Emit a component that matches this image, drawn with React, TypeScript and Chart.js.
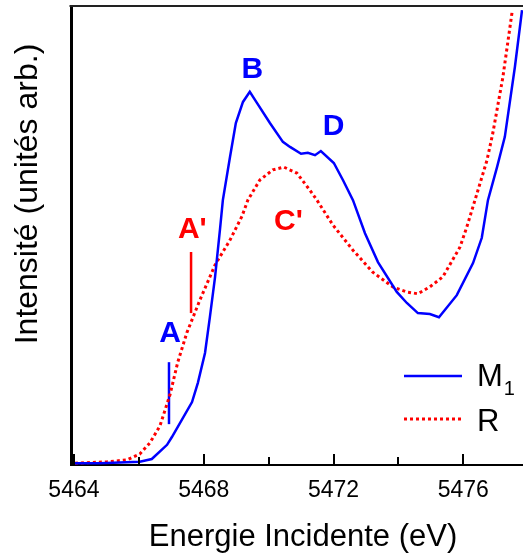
import React, { useEffect, useRef } from "react";
import { Chart, registerables } from "chart.js";

Chart.register(...registerables);

// ---- Data ----
const energyM1 = [
  5464.03, 5464.8, 5466.03, 5466.4, 5466.87, 5467.02, 5467.64, 5467.82, 5468.04, 5468.19,
  5468.35, 5468.5, 5468.59, 5468.81, 5468.99, 5469.21, 5469.42, 5469.64, 5470.04, 5470.44,
  5470.66, 5471.0, 5471.21, 5471.43, 5471.61, 5472.01, 5472.29, 5472.6, 5472.97, 5473.37,
  5473.95, 5474.26, 5474.6, 5474.97, 5475.25, 5475.8, 5476.3, 5476.57, 5476.76, 5477.04,
  5477.28, 5477.59, 5477.81,
];
const intensityM1 = [
  0.004, 0.004, 0.007, 0.013, 0.044, 0.061, 0.137, 0.179, 0.244, 0.322,
  0.41, 0.512, 0.577, 0.671, 0.745, 0.791, 0.813, 0.789, 0.745, 0.704,
  0.693, 0.678, 0.68, 0.675, 0.684, 0.658, 0.621, 0.577, 0.505, 0.442,
  0.377, 0.353, 0.331, 0.329, 0.322, 0.37, 0.44, 0.495, 0.577, 0.649,
  0.715, 0.867, 0.991,
];
const energyR = [
  5464.03, 5465.02, 5465.63, 5466.03, 5466.34, 5466.65, 5466.96, 5467.2, 5467.48, 5467.88,
  5468.35, 5468.81, 5469.18, 5469.36, 5469.73, 5470.13, 5470.47, 5470.87, 5471.27, 5471.49,
  5471.98, 5472.6, 5473.21, 5473.83, 5474.26, 5474.6, 5474.97, 5475.37, 5475.9, 5476.11,
  5476.36, 5476.73, 5476.91, 5477.22, 5477.5,
];
const intensityR = [
  0.004, 0.007, 0.011, 0.024, 0.048, 0.085, 0.153, 0.224, 0.288, 0.359,
  0.436, 0.49, 0.542, 0.577, 0.621, 0.643, 0.649, 0.636, 0.599, 0.577,
  0.523, 0.468, 0.42, 0.388, 0.377, 0.373, 0.388, 0.41, 0.475, 0.519,
  0.577, 0.664, 0.723, 0.845, 0.985,
];

// Edge markers A and A'
const markerAEnergy = [5466.93, 5466.93];
const markerAIntensity = [0.089, 0.224];
const markerAPrimeEnergy = [5467.61, 5467.61];
const markerAPrimeIntensity = [0.331, 0.464];

// Feature labels
const featureLabels = ["A", "A'", "B", "C'", "D"];
const featureEnergy = [5466.96, 5467.65, 5469.5, 5470.61, 5472.0];
const featureIntensity = [0.268, 0.495, 0.843, 0.512, 0.719];
const featureColors = ["#0000ff", "#ff0000", "#0000ff", "#ff0000", "#0000ff"];

// Axis
const xMin = 5463.91;
const xMax = 5477.84;
const majorTicks = [5464, 5468, 5472, 5476];
const minorTicks = [5466, 5470, 5474];

const xTitle = "Energie Incidente (eV)";
const yTitle = "Intensité (unités arb.)";
const FONT = "'Liberation Sans', Arial, Helvetica, sans-serif";

const BLUE = "#0000ff";
const RED = "#ff0000";

const pts = (xs: number[], ys: number[]) => xs.map((x, i) => ({ x, y: ys[i] }));

const overlayPlugin = {
  id: "overlay",
  afterDatasetsDraw(chart: any) {
    const { ctx, chartArea } = chart;
    const xs = chart.scales.x;
    const ys = chart.scales.y;
    ctx.save();

    // top frame line
    ctx.strokeStyle = "#222";
    ctx.lineWidth = 2;
    ctx.beginPath();
    ctx.moveTo(chartArea.left - 1.5, chartArea.top);
    ctx.lineTo(chartArea.right, chartArea.top);
    ctx.stroke();

    // inward ticks on bottom axis
    ctx.strokeStyle = "#000";
    ctx.lineWidth = 2;
    const drawTick = (v: number, len: number) => {
      const px = Math.round(xs.getPixelForValue(v));
      ctx.beginPath();
      ctx.moveTo(px, chartArea.bottom);
      ctx.lineTo(px, chartArea.bottom - len);
      ctx.stroke();
    };
    majorTicks.forEach((v) => drawTick(v, 11));
    minorTicks.forEach((v) => drawTick(v, 8));

    // feature labels
    ctx.font = `bold 30px ${FONT}`;
    ctx.textAlign = "center";
    ctx.textBaseline = "alphabetic";
    featureLabels.forEach((t, i) => {
      ctx.fillStyle = featureColors[i];
      ctx.fillText(t, xs.getPixelForValue(featureEnergy[i]), ys.getPixelForValue(featureIntensity[i]));
    });

    // legend
    const lx0 = chartArea.right - 119;
    const lx1 = chartArea.right - 61;
    const tx = chartArea.right - 46;
    ctx.lineWidth = 2.5;
    ctx.strokeStyle = BLUE;
    ctx.setLineDash([]);
    ctx.beginPath();
    ctx.moveTo(lx0, 376);
    ctx.lineTo(lx1, 376);
    ctx.stroke();
    ctx.strokeStyle = RED;
    ctx.lineWidth = 3;
    ctx.setLineDash([3, 3]);
    ctx.beginPath();
    ctx.moveTo(lx0, 419);
    ctx.lineTo(lx1, 419);
    ctx.stroke();
    ctx.setLineDash([]);
    ctx.fillStyle = "#000";
    ctx.textAlign = "left";
    ctx.font = `31px ${FONT}`;
    ctx.fillText("M", tx, 386);
    const mw = ctx.measureText("M").width;
    ctx.font = `20px ${FONT}`;
    ctx.fillText("1", tx + mw + 1, 395);
    ctx.font = `31px ${FONT}`;
    ctx.fillText("R", tx, 431);

    // axis titles
    ctx.font = `31px ${FONT}`;
    ctx.textAlign = "center";
    ctx.fillStyle = "#000";
    ctx.fillText(xTitle, 303, 546);
    ctx.save();
    ctx.translate(37, 194);
    ctx.rotate(-Math.PI / 2);
    ctx.font = `32px ${FONT}`;
    ctx.fillText(yTitle, 0, 0);
    ctx.restore();

    ctx.restore();
  },
};

export default function App() {
  const ref = useRef<HTMLCanvasElement | null>(null);
  useEffect(() => {
    if (!ref.current) return;
    const chart = new Chart(ref.current, {
      type: "line",
      data: {
        datasets: [
          {
            label: "M1",
            data: pts(energyM1, intensityM1),
            borderColor: BLUE,
            borderWidth: 2.5,
            pointRadius: 0,
            tension: 0,
          },
          {
            label: "R",
            data: pts(energyR, intensityR),
            borderColor: RED,
            borderWidth: 3,
            borderDash: [3, 3],
            pointRadius: 0,
            tension: 0,
          },
          {
            label: "A",
            data: pts(markerAEnergy, markerAIntensity),
            borderColor: BLUE,
            borderWidth: 2.5,
            pointRadius: 0,
          },
          {
            label: "A'",
            data: pts(markerAPrimeEnergy, markerAPrimeIntensity),
            borderColor: RED,
            borderWidth: 2.5,
            pointRadius: 0,
          },
        ],
      },
      options: {
        animation: false,
        responsive: false,
        maintainAspectRatio: false,
        layout: { padding: { top: 6, left: 0, right: 0, bottom: 0 } },
        plugins: { legend: { display: false }, tooltip: { enabled: false } },
        scales: {
          x: {
            type: "linear",
            min: xMin,
            max: xMax,
            grid: { display: false, drawTicks: false },
            border: { display: true, color: "#000", width: 2 },
            afterBuildTicks: (s: any) => {
              s.ticks = [...majorTicks, ...minorTicks].sort((a, b) => a - b).map((v) => ({ value: v }));
            },
            afterFit: (s: any) => {
              s.height = 91;
            },
            ticks: {
              autoSkip: false,
              maxRotation: 0,
              padding: 12,
              color: "#000",
              font: { family: FONT, size: 23 },
              callback: (v: any) => (majorTicks.includes(Number(v)) ? String(v) : ""),
            },
          },
          y: {
            type: "linear",
            min: 0,
            max: 1,
            grid: { display: false, drawTicks: false },
            border: { display: true, color: "#000", width: 3 },
            ticks: { display: false },
            afterFit: (s: any) => {
              s.width = 71;
            },
          },
        },
      },
      plugins: [overlayPlugin],
    });
    return () => chart.destroy();
  }, []);
  return (
    <div style={{ position: "absolute", left: 0, top: 0, width: 523, height: 556, background: "#fff" }}>
      <canvas ref={ref} width={523} height={556} style={{ width: 523, height: 556, display: "block" }} />
    </div>
  );
}
